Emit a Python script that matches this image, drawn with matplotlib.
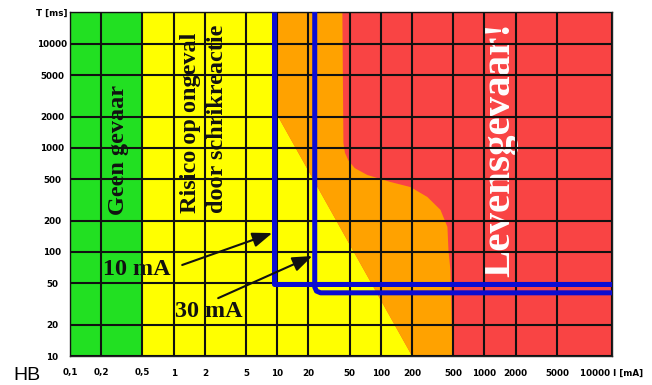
import numpy as np
import matplotlib.pyplot as plt

# axis ticks: current I [mA] and time T [ms]
i_ticks = [0.1, 0.2, 0.5, 1, 2, 5, 10, 20, 50, 100, 200, 500, 1000, 2000, 5000]
i_labels = ['0,1', '0,2', '0,5', '1', '2', '5', '10', '20', '50', '100',
            '200', '500', '1000', '2000', '5000']
t_ticks = [10, 20, 50, 100, 200, 500, 1000, 2000, 5000, 10000]
t_labels = ['10', '20', '50', '100', '200', '500', '1000', '2000', '5000', '10000']
I_MIN, I_MAX = 0.1, 17000
T_MIN, T_MAX = 10, 20300

# zone boundaries
green_limit = 0.5
yellow_i = [10.2, 10.2, 200]
yellow_t = [T_MAX, 2000, 10]
red_i = [42.5, 43.5, 45, 48.5, 56, 74, 124, 193, 281, 376, 439, 449, 469, 491]
red_t = [T_MAX, 1120, 900, 760, 640, 550, 471, 421, 338, 254, 174, 104, 67, 10]

# tripping curves of the 10 mA and 30 mA devices
rcd10_i = [9.35, 9.35, I_MAX]
rcd10_t = [T_MAX, 49, 49]
rcd30_i = [23, 23, 23.9, 26.2, I_MAX]
rcd30_t = [T_MAX, 46, 42.1, 40.5, 40.5]

GREEN = '#22e022'
YELLOW = '#ffff00'
ORANGE = '#ffa200'
RED = '#f94444'
BLUE = '#0c0cd2'

fig = plt.figure(figsize=(6.52, 3.85), dpi=100)
ax = fig.add_axes([70/652, 29/385, 542/652, 344/385])
ax.set_xscale('log')
ax.set_yscale('log')
ax.set_xlim(I_MIN, I_MAX)
ax.set_ylim(T_MIN, T_MAX)
ax.set_facecolor(RED)

# zones
ax.fill_betweenx([T_MIN, T_MAX], I_MIN, green_limit, color=GREEN, lw=0, zorder=1)
yx = np.concatenate([[green_limit], yellow_i, [green_limit]])
yy = np.concatenate([[T_MAX], yellow_t, [T_MIN]])
ax.fill(yx, yy, color=YELLOW, lw=0, zorder=1)
ox = np.concatenate([yellow_i, red_i[::-1]])
oy = np.concatenate([yellow_t, red_t[::-1]])
ax.fill(ox, oy, color=ORANGE, lw=0, zorder=1)

# grid
ax.set_xticks(i_ticks + [I_MAX])
ax.set_xticklabels(i_labels + ['10000 I [mA]'])
ax.set_yticks(t_ticks + [T_MAX])
ax.set_yticklabels(t_labels + ['T [ms]'])
ax.minorticks_off()
ax.set_axisbelow(False)
ax.grid(True, color='#111111', lw=1.5)
ax.tick_params(length=0, labelsize=6.3)
ax.tick_params(axis='x', pad=9)
ax.tick_params(axis='y', pad=13)
for lbl in ax.get_xticklabels() + ax.get_yticklabels():
    lbl.set_fontweight('bold')
    lbl.set_family('DejaVu Sans')
for lbl in ax.get_yticklabels():
    lbl.set_ha('center')
for s in ax.spines.values():
    s.set_color('#222222')
    s.set_linewidth(1.0)

# zone captions
serif = dict(family='Liberation Serif', fontweight='bold', rotation=90,
             ha='center', va='bottom', transform=ax.transAxes, zorder=2)
ax.text(0.0904, 0.410, 'Geen gevaar', fontsize=17.5, color='#111111', **serif)
ax.text(0.223, 0.416, 'Risico op ongeval', fontsize=17.5, color='#111111', **serif)
ax.text(0.273, 0.416, 'door schrikreactie', fontsize=17.5, color='#111111', **serif)
ax.text(0.793, 0.230, 'Levensgevaar!', fontsize=29.5, color='white', **serif)

# tripping curves
for xs, ys in [(rcd10_i, rcd10_t), (rcd30_i, rcd30_t)]:
    ax.plot(xs, ys, color=BLUE, lw=3.6, solid_joinstyle='round',
            solid_capstyle='butt', zorder=3)

# labels with arrows
arrow = dict(arrowstyle='-|>,head_length=0.8,head_width=0.3', color='#111111',
             lw=1.5, mutation_scale=15, shrinkA=0, shrinkB=0)
ax.annotate('', xy=(8.95, 152), xytext=(1.21, 75), arrowprops=arrow, zorder=4)
ax.annotate('', xy=(21.8, 91.5), xytext=(2.69, 36), arrowprops=arrow, zorder=4)
ax.text(0.061, 0.235, '10 mA', family='Liberation Serif', fontweight='bold',
        fontsize=17.4, color='#111111', ha='left', va='baseline',
        transform=ax.transAxes, zorder=4)
ax.text(0.194, 0.113, '30 mA', family='Liberation Serif', fontweight='bold',
        fontsize=17.4, color='#111111', ha='left', va='baseline',
        transform=ax.transAxes, zorder=4)

fig.text(13/652, 0.5/385, 'HB', family='Liberation Sans', fontsize=14,
         ha='left', va='bottom')

fig.savefig('out.png', dpi=100)
